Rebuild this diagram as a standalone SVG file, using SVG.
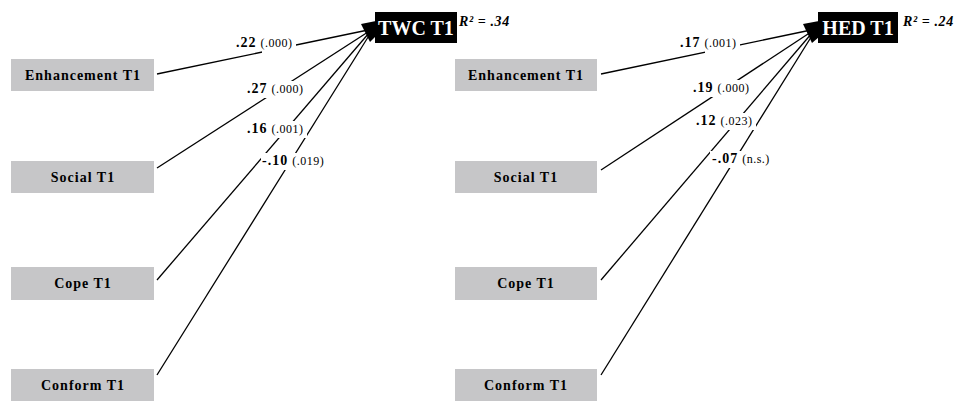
<svg xmlns="http://www.w3.org/2000/svg" width="956" height="401" viewBox="0 0 956 401">
  <style>
    .pred { fill: #c6c6c8; }
    .pred-label { font-family: "Liberation Serif", "Times New Roman", serif; font-weight: bold; font-size: 14px; letter-spacing: 1px; fill: #000; text-anchor: middle; }
    .outcome { fill: #000; }
    .outcome-label { font-family: "Liberation Serif", "Times New Roman", serif; font-weight: bold; font-size: 20px; fill: #fff; text-anchor: middle; }
    .r2 { font-family: "Liberation Serif", "Times New Roman", serif; font-weight: bold; font-style: italic; font-size: 14px; letter-spacing: 0.6px; fill: #000; }
    .path { stroke: #000; stroke-width: 1.3; fill: none; }
    .coef { font-family: "Liberation Serif", "Times New Roman", serif; fill: #000; }
    .coef .b { font-weight: bold; font-size: 14px; letter-spacing: 1px; }
    .coef .p { font-size: 12px; letter-spacing: 0.5px; }
    .halo { fill: #fff; }
    .head { fill: #000; }
  </style>

  <!-- connectors -->
  <g id="connectors">
    <line class="path" x1="157" y1="74" x2="368" y2="30"/>
    <line class="path" x1="157" y1="168" x2="368" y2="32"/>
    <line class="path" x1="157" y1="280" x2="369" y2="33"/>
    <line class="path" x1="157" y1="375" x2="370" y2="34"/>
    <polygon class="head" points="361,24 376,21 376,36 370,42"/>

    <line class="path" x1="601" y1="74" x2="811" y2="30"/>
    <line class="path" x1="601" y1="170" x2="811" y2="32"/>
    <line class="path" x1="601" y1="280" x2="812" y2="33"/>
    <line class="path" x1="601" y1="375" x2="813" y2="34"/>
    <polygon class="head" points="803,24 819,21 819,37 812,43"/>

    <!-- path coefficients (p-values) on white backing -->
    <rect class="halo" x="262" y="36" width="34" height="17"/>
    <text class="coef" x="236" y="47"><tspan class="b">.22</tspan> <tspan class="p">(.000)</tspan></text>
    <rect class="halo" x="245" y="81" width="62" height="17"/>
    <text class="coef" x="247" y="93"><tspan class="b">.27</tspan> <tspan class="p">(.000)</tspan></text>
    <rect class="halo" x="245" y="121" width="62" height="17"/>
    <text class="coef" x="247" y="133"><tspan class="b">.16</tspan> <tspan class="p">(.001)</tspan></text>
    <rect class="halo" x="261" y="153" width="68" height="17"/>
    <text class="coef" x="262" y="165"><tspan class="b">-.10</tspan> <tspan class="p">(.019)</tspan></text>

    <rect class="halo" x="705" y="36" width="35" height="17"/>
    <text class="coef" x="680" y="47"><tspan class="b">.17</tspan> <tspan class="p">(.001)</tspan></text>
    <rect class="halo" x="691" y="80" width="62" height="17"/>
    <text class="coef" x="693" y="92"><tspan class="b">.19</tspan> <tspan class="p">(.000)</tspan></text>
    <rect class="halo" x="694" y="113" width="62" height="17"/>
    <text class="coef" x="696" y="125"><tspan class="b">.12</tspan> <tspan class="p">(.023)</tspan></text>
    <rect class="halo" x="710" y="151" width="62" height="17"/>
    <text class="coef" x="712" y="163"><tspan class="b">-.07</tspan> <tspan class="p">(n.s.)</tspan></text>
  </g>

  <!-- outcome TWC -->
  <g id="twc">
    <rect class="outcome" x="375" y="12" width="82" height="31"/>
    <text class="outcome-label" x="416" y="35">TWC T1</text>
    <text class="r2" x="459" y="26">R² = .34</text>
  </g>

  <!-- outcome HED -->
  <g id="hed">
    <rect class="outcome" x="818" y="12" width="80" height="31"/>
    <text class="outcome-label" x="858" y="35">HED T1</text>
    <text class="r2" x="903" y="26">R² = .24</text>
  </g>

  <!-- predictors, left model -->
  <g id="enh-a"><rect class="pred" x="11" y="59" width="143" height="32"/><text class="pred-label" x="83" y="80">Enhancement T1</text></g>
  <g id="soc-a"><rect class="pred" x="11" y="161" width="143" height="32"/><text class="pred-label" x="83" y="182">Social T1</text></g>
  <g id="cope-a"><rect class="pred" x="11" y="267" width="143" height="33"/><text class="pred-label" x="83" y="288">Cope T1</text></g>
  <g id="conf-a"><rect class="pred" x="11" y="369" width="143" height="32"/><text class="pred-label" x="83" y="390">Conform T1</text></g>

  <!-- predictors, right model -->
  <g id="enh-b"><rect class="pred" x="455" y="59" width="142" height="32"/><text class="pred-label" x="526" y="80">Enhancement T1</text></g>
  <g id="soc-b"><rect class="pred" x="455" y="161" width="142" height="32"/><text class="pred-label" x="526" y="182">Social T1</text></g>
  <g id="cope-b"><rect class="pred" x="455" y="267" width="142" height="33"/><text class="pred-label" x="526" y="288">Cope T1</text></g>
  <g id="conf-b"><rect class="pred" x="455" y="369" width="142" height="32"/><text class="pred-label" x="526" y="390">Conform T1</text></g>
</svg>
